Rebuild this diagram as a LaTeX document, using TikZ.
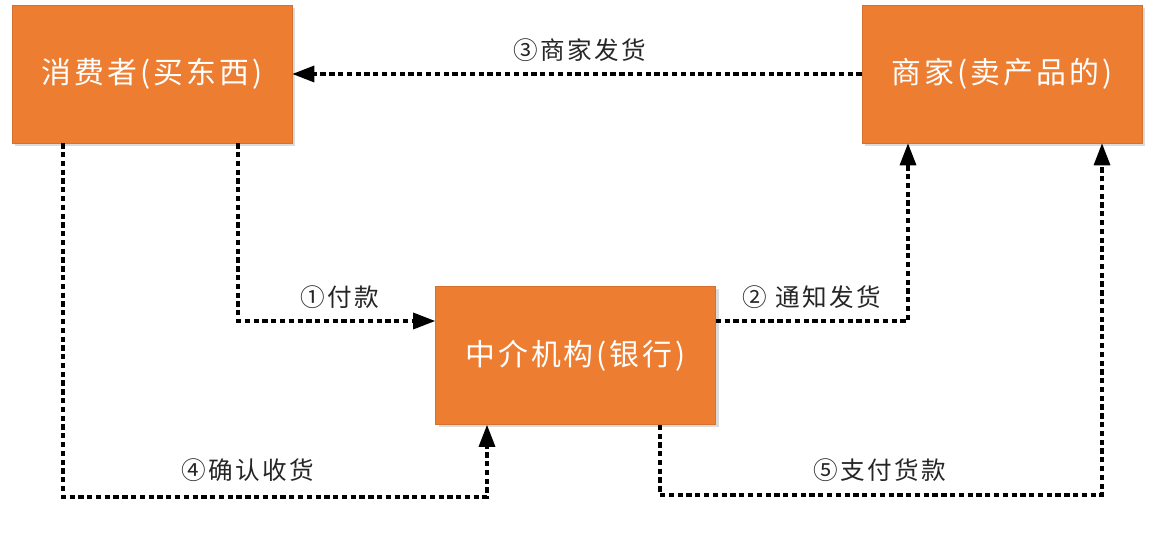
\documentclass[tikz,border=0pt]{standalone}
\usepackage{fontspec}
\setmainfont{Noto Sans CJK SC}
\usetikzlibrary{arrows.meta,shadows}
\definecolor{boxorange}{RGB}{237,125,49}

\tikzset{
  party/.style={fill=boxorange,draw=boxorange!90!black,line width=0.3pt,
    minimum width=5.6cm,minimum height=2.76cm,text=white,
    font=\fontsize{17}{20}\selectfont\addfontfeature{LetterSpace=10},
    drop shadow={shadow xshift=0.06cm,shadow yshift=-0.06cm,opacity=0.35,fill=black!40}},
  flow/.style={line width=1.8pt,dash pattern=on 3pt off 2pt,
    -{Triangle[length=0.44cm,width=0.32cm]}},
  steplabel/.style={font=\fontsize{14}{17}\selectfont\addfontfeature{LetterSpace=10},text=black!85}
}

\begin{document}
\begin{tikzpicture}[line join=miter]
  \useasboundingbox (0,0) rectangle (23.1,10.68);
  \node[party] (buyer) at (3.04,9.2) {消费者(买东西)};
  \node[party] (seller) at (20.04,9.2) {商家(卖产品的)};
  \node[party] (bank) at (11.51,3.57) {中介机构(银行)};
  \coordinate (c1) at (4.76,4.26);
  \coordinate (c2) at (18.16,4.26);
  \coordinate (c4a) at (1.26,0.74);
  \coordinate (c4b) at (9.74,0.74);
  \coordinate (c5a) at (13.2,0.78);
  \coordinate (c5b) at (22.04,0.78);
  \draw[flow] (seller.west) -- (buyer.east);
  \draw[flow] (buyer.south -| c1) |- (bank.west |- c1);
  \draw[flow] (bank.east |- c2) -| (seller.south -| c2);
  \draw[flow] (buyer.south -| c4a) -- (c4a) -- (c4b) -- (bank.south -| c4b);
  \draw[flow] (bank.south -| c5a) -- (c5a) -- (c5b) -- (seller.south -| c5b);
  \node[steplabel] (l3) at (11.6,9.68) {③商家发货};
  \node[steplabel] (l1) at (6.8,4.74) {①付款};
  \node[steplabel] (l2) at (16.24,4.74) {② 通知发货};
  \node[steplabel] (l4) at (4.95,1.28) {④确认收货};
  \node[steplabel] (l5) at (17.6,1.28) {⑤支付货款};
\end{tikzpicture}
\end{document}
